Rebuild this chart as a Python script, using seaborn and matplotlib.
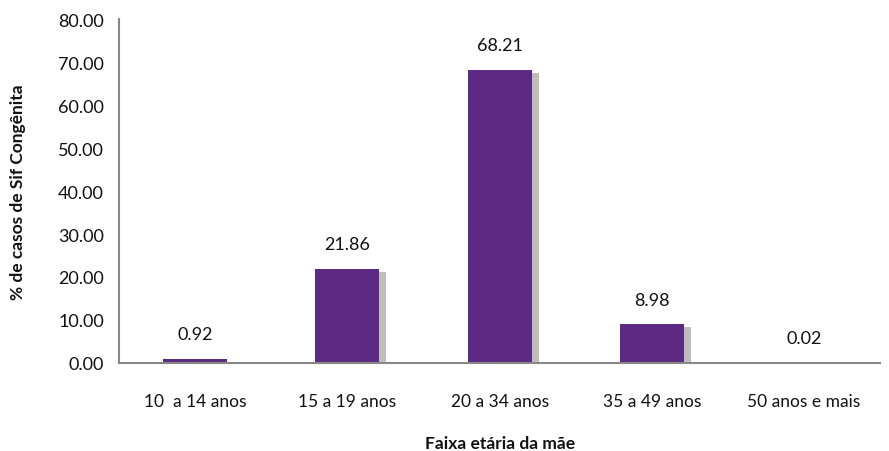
import matplotlib
matplotlib.use("Agg")
import matplotlib.pyplot as plt
import matplotlib.patheffects as pe
from matplotlib.ticker import FixedLocator
import seaborn as sns
import pandas as pd

categories = ["10  a 14 anos", "15 a 19 anos", "20 a 34 anos", "35 a 49 anos", "50 anos e mais"]
values = [0.92, 21.86, 68.21, 8.98, 0.02]

sns.set_theme(style="white")
plt.rcParams['font.family'] = ['Lato', 'DejaVu Sans']

df = pd.DataFrame({"cat": categories, "val": values})
fig, ax = plt.subplots(figsize=(8.89, 4.52), dpi=100)
fig.subplots_adjust(left=0.134, right=0.99, top=0.955, bottom=0.195)

sns.barplot(data=df, x="cat", y="val", color="#5C2A82", saturation=1, width=0.42,
            linewidth=0, ax=ax)
for p in ax.patches:
    p.set_path_effects([pe.SimplePatchShadow(offset=(5, -2.2), shadow_rgbFace="#a8a8a8", alpha=0.75), pe.Normal()])

for i, v in enumerate(values):
    ax.text(i, v + 3.9, f"{v:.2f}", ha="center", va="bottom", fontsize=13, color="#111111")

ax.set_ylim(0, 80)
ax.set_yticks(range(0, 81, 10))
ax.set_yticklabels([f"{t:.2f}" for t in range(0, 81, 10)], fontsize=13, color="#111111")
ax.set_xlim(-0.5, len(categories) - 0.5)
ax.set_xticks(range(len(categories)))
ax.set_xticklabels(categories, fontsize=12.5, color="#111111")
ax.tick_params(axis="x", length=0, pad=22)
ax.xaxis.set_minor_locator(FixedLocator([i - 0.5 for i in range(len(categories) + 1)]))
ax.tick_params(axis="x", which="minor", length=6, color="#888888", width=1.2, direction="out")
ax.tick_params(axis="y", length=6, color="#888888", width=1.2, direction="out", pad=5)

for s in ["top", "right"]:
    ax.spines[s].set_visible(False)
for s in ["left", "bottom"]:
    ax.spines[s].set_color("#888888")
    ax.spines[s].set_linewidth(1.5)

ax.set_xlabel("Faixa etária da mãe", fontsize=12.5, fontweight="bold", color="#111111")
ax.xaxis.set_label_coords(0.5, -0.21)
ax.set_ylabel("% de casos de Sif Congênita", fontsize=12.5, fontweight="bold", color="#111111")
ax.yaxis.set_label_coords(-0.122, 0.5)

fig.savefig("out.png", dpi=100)
